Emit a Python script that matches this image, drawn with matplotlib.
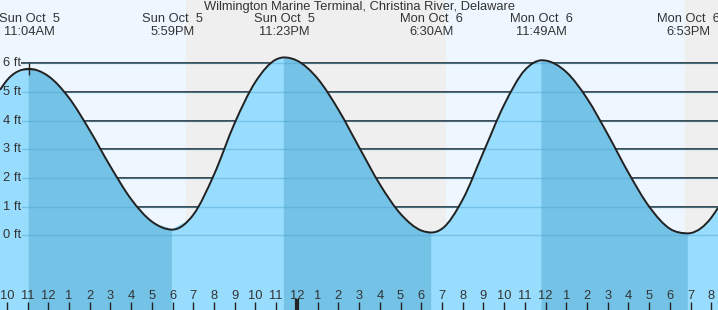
import matplotlib
matplotlib.use("Agg")
import matplotlib.pyplot as plt
import matplotlib.transforms as mtransforms
from matplotlib.path import Path
from matplotlib.patches import PathPatch

# tide height readings (hours counted from Sun Oct 5 00:00)
curve_hours = [9.67, 10, 11.07, 12, 13, 14, 15, 16, 17, 17.98, 19, 20, 21, 22, 23, 23.38,
               24, 25, 26, 27, 28, 29, 30, 30.5, 31, 32, 33, 34, 35, 35.82, 36, 37, 38, 39,
               40, 41, 42, 42.88, 43, 44, 44.32]
curve_ft = [5.07, 5.4, 5.8, 5.55, 4.79, 3.66, 2.40, 1.26, 0.48, 0.2, 0.72, 2.12, 3.92, 5.35,
            6.13, 6.2, 6.09, 5.46, 4.38, 3.07, 1.78, 0.75, 0.17, 0.1, 0.23, 1.25, 2.9, 4.55, 5.76,
            6.1, 6.09, 5.69, 4.77, 3.52, 2.18, 1.0, 0.23, 0.07, 0.08, 0.62, 0.96]

# high / low tide events
event_hours = [11.07, 17.98, 23.38, 30.5, 35.82, 42.88]
event_days = ["Sun Oct  5", "Sun Oct  5", "Sun Oct  5", "Mon Oct  6", "Mon Oct  6", "Mon Oct  6"]
event_times = ["11:04AM", "5:59PM", "11:23PM", "6:30AM", "11:49AM", "6:53PM"]

# night spans (sunset -> sunrise)
night_start = [18.65, 42.72]
night_end = [31.15, 44.32]

ft_levels = [0, 1, 2, 3, 4, 5, 6]
hour_ticks = list(range(10, 45))
title = "Wilmington Marine Terminal, Christina River, Delaware"

x_min, x_max = 9.67, 44.32
y_min, y_max = -2.6, 8.2
fs = 9.3


def smooth_segments(xs, ys):
    # cubic bezier pieces through the points, flat at turning points, no overshoot
    n = len(xs)
    hs = [xs[i + 1] - xs[i] for i in range(n - 1)]
    ds = [(ys[i + 1] - ys[i]) / hs[i] for i in range(n - 1)]
    ms = [ds[0]] + [0.0] * (n - 2) + [ds[-1]]
    for i in range(1, n - 1):
        if ds[i - 1] * ds[i] > 0:
            m = (hs[i] * ds[i - 1] + hs[i - 1] * ds[i]) / (hs[i - 1] + hs[i])
            lim = 3 * min(abs(ds[i - 1]), abs(ds[i]))
            ms[i] = max(-lim, min(lim, m))
    verts = [(xs[0], ys[0])]
    codes = [Path.MOVETO]
    for i in range(n - 1):
        h = hs[i]
        verts += [(xs[i] + h / 3, ys[i] + ms[i] * h / 3),
                  (xs[i + 1] - h / 3, ys[i + 1] - ms[i + 1] * h / 3),
                  (xs[i + 1], ys[i + 1])]
        codes += [Path.CURVE4] * 3
    return verts, codes


plt.rcParams['font.family'] = ['Liberation Sans', 'DejaVu Sans']
fig = plt.figure(figsize=(7.18, 3.10), dpi=100)
ax = fig.add_axes([0, 0, 1, 1])
ax.set_xlim(x_min, x_max)
ax.set_ylim(y_min, y_max)
ax.axis("off")

# background: day light blue, night grey
ax.axvspan(x_min, x_max, color="#eef7ff", zorder=0)
for a, b in zip(night_start, night_end):
    ax.axvspan(a, b, color="#efefef", zorder=0.5)

# dark grid lines (visible above the water)
for lv in ft_levels:
    ax.axhline(lv, xmin=22 / 718, xmax=1, color="#333333", lw=1.3, zorder=1)

# fill under the curve: rising light, falling darker
bounds = [x_min] + event_hours + [x_max]
for a, b in zip(bounds[:-1], bounds[1:]):
    seg_x = [h for h in curve_hours if a <= h <= b]
    seg_y = [v for h, v in zip(curve_hours, curve_ft) if a <= h <= b]
    col = "#74c3e6" if seg_y[0] > seg_y[-1] else "#99ddfe"
    verts, codes = smooth_segments(seg_x, seg_y)
    verts += [(seg_x[-1], y_min - 1), (seg_x[0], y_min - 1), (seg_x[0], seg_y[0])]
    codes += [Path.LINETO, Path.LINETO, Path.CLOSEPOLY]
    ax.add_patch(PathPatch(Path(verts, codes), facecolor=col, edgecolor=col, lw=0.5, zorder=2))

# faint grid lines over the water
for lv in ft_levels:
    ax.axhline(lv, xmin=22 / 718, xmax=1, color="#4aa3d0", lw=1.0, alpha=0.45, zorder=3)

verts, codes = smooth_segments(curve_hours, curve_ft)
ax.add_patch(PathPatch(Path(verts, codes), facecolor="none", edgecolor="#222222", lw=1.4, zorder=4))
ax.plot([event_hours[0]], [curve_ft[2]], marker="+", color="#222222", ms=8, mew=1, zorder=5)

# ft labels on the left
trans = mtransforms.blended_transform_factory(ax.transAxes, ax.transData)
for lv in ft_levels:
    ax.text(3 / 718, lv, f"{lv} ft", transform=trans, ha="left", va="center",
            fontsize=fs, color="#333333", zorder=6)

# title and event labels
tx = mtransforms.blended_transform_factory(ax.transData, ax.transAxes)
ax.text(0.5, 1 - 7 / 310, title, transform=ax.transAxes, ha="center", va="center",
        fontsize=fs, color="#333333", zorder=6)
for h, d, t in zip(event_hours, event_days, event_times):
    ax.text(h, 1 - 19 / 310, d, transform=tx, ha="center", va="center", fontsize=fs,
            color="#333333", zorder=6)
    ax.text(h, 1 - 32 / 310, t, transform=tx, ha="center", va="center", fontsize=fs,
            color="#333333", zorder=6)

# hour ticks along the bottom
for h in hour_ticks:
    lbl = str((h - 1) % 12 + 1)
    ax.text(h, 14 / 310, lbl, transform=tx, ha="center", va="center", fontsize=fs,
            color="#333333", zorder=6)
    if h % 24 == 0:
        ax.plot([h, h], [0, 11 / 310], transform=tx, color="#222222", lw=3, zorder=6,
                solid_capstyle="butt")
    else:
        ax.plot([h, h], [0, 8 / 310], transform=tx, color="#222222", lw=1, zorder=6,
                solid_capstyle="butt")

fig.savefig("out.png", dpi=100)
